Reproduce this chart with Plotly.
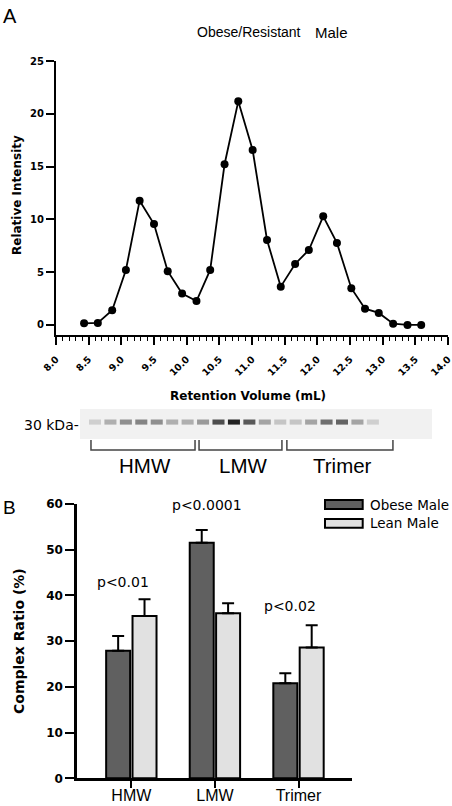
import plotly.graph_objects as go

# ---------------- data ----------------
# Panel A: elution profile
retention_ml = [8.43, 8.64, 8.86, 9.07, 9.28, 9.50, 9.71, 9.93, 10.15, 10.36, 10.58, 10.79,
                11.01, 11.23, 11.44, 11.66, 11.87, 12.09, 12.30, 12.52, 12.73, 12.94, 13.16,
                13.38, 13.59]
rel_intensity = [0.16, 0.19, 1.39, 5.21, 11.77, 9.56, 5.09, 2.97, 2.27, 5.21, 15.22, 21.18,
                 16.57, 8.05, 3.63, 5.78, 7.10, 10.29, 7.77, 3.48, 1.54, 1.14, 0.12, 0.0, 0.0]
x_ticks_a = [8.0, 8.5, 9.0, 9.5, 10.0, 10.5, 11.0, 11.5, 12.0, 12.5, 13.0, 13.5, 14.0]
y_ticks_a = [0, 5, 10, 15, 20, 25]

# Western blot lanes (relative band darkness 0..1)
gel_lanes = list(range(1, 20))
band_intensity = [0.15, 0.30, 0.45, 0.50, 0.45, 0.30, 0.30, 0.40, 0.75, 0.95, 0.70, 0.35,
                  0.20, 0.20, 0.35, 0.60, 0.65, 0.35, 0.15]
bracket_names = ["HMW", "LMW", "Trimer"]
bracket_start = [0.74, 7.74, 13.43]
bracket_end = [7.48, 13.11, 20.30]

# Panel B: complex ratio
categories = ["HMW", "LMW", "Trimer"]
obese_mean = [27.9, 51.5, 20.8]
obese_sem = [3.2, 2.8, 2.2]
lean_mean = [35.5, 36.1, 28.6]
lean_sem = [3.65, 2.2, 4.9]
p_labels = ["p<0.01", "p<0.0001", "p<0.02"]
p_label_y = [43.0, 59.7, 37.6]
y_ticks_b = [0, 10, 20, 30, 40, 50, 60]
series_names = ["Obese Male", "Lean Male"]

# ---------------- style ----------------
W, H = 452, 806
ARIAL = "Liberation Sans, Arial, sans-serif"
DEJA = "DejaVu Sans, sans-serif"
DARK = "#606060"
LIGHT = "#e1e1e1"


def fx(p):
    return p / W


def fy(p):
    return 1 - p / H


fig = go.Figure()

# Panel A line
fig.add_trace(go.Scatter(
    x=retention_ml, y=rel_intensity, mode="lines+markers",
    line=dict(color="black", width=1.8),
    marker=dict(color="black", size=8),
    xaxis="x", yaxis="y", showlegend=False, hoverinfo="x+y"))

# Gel bands
band_colors = []
for v in band_intensity:
    g = int(240 - v * 215)
    band_colors.append(f"rgb({g},{g},{g})")
fig.add_trace(go.Bar(
    x=gel_lanes, y=[0.17] * len(gel_lanes), base=0.48, width=0.78,
    marker=dict(color=band_colors, line=dict(width=0)),
    xaxis="x2", yaxis="y2", showlegend=False, hoverinfo="skip"))

# Brackets
bx, by = [], []
for s, e in zip(bracket_start, bracket_end):
    bx += [s, s, e, e, None]
    by += [-0.03, -0.37, -0.37, -0.03, None]
fig.add_trace(go.Scatter(
    x=bx, y=by, mode="lines", line=dict(color="#444444", width=1.5),
    xaxis="x2", yaxis="y2", showlegend=False, hoverinfo="skip"))

# Panel B bars
err_common = dict(type="data", symmetric=False, arrayminus=[0, 0, 0],
                  color="black", thickness=2, width=6)
fig.add_trace(go.Bar(
    x=categories, y=obese_mean, name=series_names[0],
    marker=dict(color=DARK, line=dict(color="black", width=2)),
    error_y=dict(array=obese_sem, **err_common),
    xaxis="x3", yaxis="y3", showlegend=False))
fig.add_trace(go.Bar(
    x=categories, y=lean_mean, name=series_names[1],
    marker=dict(color=LIGHT, line=dict(color="black", width=2)),
    error_y=dict(array=lean_sem, **err_common),
    xaxis="x3", yaxis="y3", showlegend=False))

annotations = []
shapes = []


def ann(text, x, y, size, family=ARIAL, weight="normal", xanchor="center",
        yanchor="middle", xref="paper", yref="paper", angle=0, color="black"):
    annotations.append(dict(
        text=text, x=x, y=y, xref=xref, yref=yref, xanchor=xanchor,
        yanchor=yanchor, showarrow=False, textangle=angle,
        font=dict(family=family, size=size, weight=weight, color=color)))


# Panel letters and titles
ann("A", fx(9.5), fy(15.5), 20)
ann("B", fx(9.5), fy(507), 19)
ann("Obese/Resistant", fx(249), fy(32), 14)
ann("Male", fx(331.5), fy(32), 15)
ann("Retention Volume (mL)", fx(248), fy(396), 12, DEJA, "bold")
ann("Relative Intensity", fx(17), fy(195), 12, DEJA, "bold", angle=-90)
ann("Complex Ratio (%)", fx(19), fy(641), 14, DEJA, "bold", angle=-90)
ann("30 kDa-", fx(81), fy(425), 14, DEJA, xanchor="right")

# Gel labels
for name, s, e in zip(bracket_names, bracket_start, bracket_end):
    ann(name, (s + e) / 2 + 0.15, -0.88, 20.5, xref="x2", yref="y2")

# Gel background
shapes.append(dict(type="rect", xref="x2 domain", yref="y2", x0=0, x1=1, y0=0, y1=1,
                   fillcolor="#f1f1f1", line=dict(width=0), layer="below"))

# p-values
for i, (t, yv) in enumerate(zip(p_labels, p_label_y)):
    ann(t, i - 0.1, yv, 14, DEJA, xref="x3", yref="y3")

# Custom legend
leg_rows = [(500, 509, DARK), (519, 527.7, LIGHT)]
for (y0, y1, col), name in zip(leg_rows, series_names):
    shapes.append(dict(type="rect", xref="paper", yref="paper",
                       x0=fx(325), x1=fx(362.7), y0=fy(y1), y1=fy(y0),
                       fillcolor=col, line=dict(color="black", width=2)))
    ann(name, fx(368), fy((y0 + y1) / 2), 13.5, DEJA, xanchor="left")

fig.update_layout(
    width=W, height=H, autosize=False,
    margin=dict(l=0, r=0, t=0, b=0, pad=0, autoexpand=False),
    paper_bgcolor="white", plot_bgcolor="white",
    barmode="group", bargap=0.369, bargroupgap=0.09,
    annotations=annotations, shapes=shapes,
    xaxis=dict(
        domain=[fx(56), fx(448)], range=[8, 14], anchor="y",
        tickvals=x_ticks_a, ticktext=[f"{v:.1f}" for v in x_ticks_a], tickangle=-45,
        ticks="outside", ticklen=8, tickwidth=1.5, tickcolor="black",
        ticklabelstandoff=5, ticklabeloverflow="allow",
        minor=dict(dtick=0.1, tick0=8, ticks="outside", ticklen=4, tickwidth=1,
                   tickcolor="black", showgrid=False),
        showline=True, linewidth=2, linecolor="black",
        showgrid=False, zeroline=False, automargin=False,
        tickfont=dict(family=DEJA, size=9.5, weight="bold", color="black")),
    yaxis=dict(
        domain=[fy(335), fy(61)], range=[-0.95, 25], anchor="x",
        tickvals=y_ticks_a, ticks="outside", ticklen=8, tickwidth=1.5, tickcolor="black",
        showline=True, linewidth=2, linecolor="black",
        showgrid=False, zeroline=False, automargin=False,
        tickfont=dict(family=DEJA, size=10, weight="bold", color="black")),
    xaxis2=dict(domain=[fx(80), fx(432)], range=[0.029, 22.83], anchor="y2",
                visible=False, showgrid=False, zeroline=False),
    yaxis2=dict(domain=[fy(480), fy(409)], range=[-1.367, 1], anchor="x2",
                visible=False, showgrid=False, zeroline=False),
    xaxis3=dict(
        domain=[fx(77), fx(352)], range=[-0.65, 2.64], anchor="y3", type="category",
        ticks="outside", ticklen=7, tickwidth=2, tickcolor="black",
        ticklabelstandoff=-6, ticklabeloverflow="allow",
        showline=True, linewidth=2.5, linecolor="black",
        showgrid=False, zeroline=False, automargin=False,
        tickfont=dict(family=ARIAL, size=16, color="black")),
    yaxis3=dict(
        domain=[fy(778.3), fy(504)], range=[0, 60], anchor="x3",
        tickvals=y_ticks_b, ticks="outside", ticklen=9, tickwidth=2, tickcolor="black",
        showline=True, linewidth=2.5, linecolor="black",
        showgrid=False, zeroline=False, automargin=False,
        tickfont=dict(family=DEJA, size=12, weight="bold", color="black")),
)

fig.write_html(
    "out.html",
    config={"displayModeBar": False, "responsive": False},
    post_script="document.body.style.margin='0';document.body.style.overflow='hidden';",
)
